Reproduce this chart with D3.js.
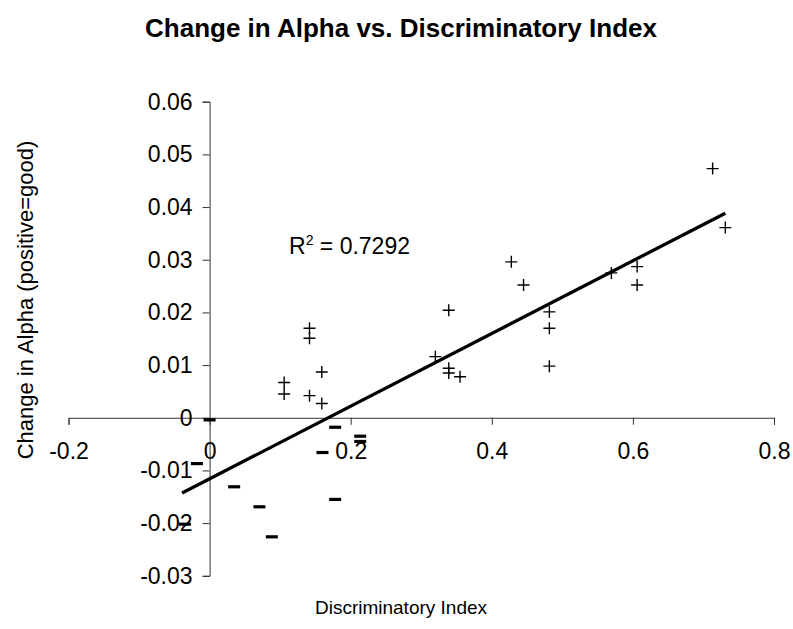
<!DOCTYPE html>
<html>
<head>
<meta charset="utf-8">
<script src="https://cdn.jsdelivr.net/npm/d3@7"></script>
<style>
  html, body { margin: 0; padding: 0; background: #fff; }
  svg { display: block; font-family: "Liberation Sans", Arial, sans-serif; }
</style>
</head>
<body>
<svg id="chart" width="793" height="629"></svg>
<script>
// ---- data ----
const title = "Change in Alpha vs. Discriminatory Index";
const xTitle = "Discriminatory Index";
const yTitle = "Change in Alpha (positive=good)";
const r2Label = "0.7292";

const xTicks = [-0.2, 0, 0.2, 0.4, 0.6, 0.8];
const yTicks = [-0.03, -0.02, -0.01, 0, 0.01, 0.02, 0.03, 0.04, 0.05, 0.06];

// positive change points (plus markers)
const posX = [0.1057, 0.1057, 0.1416, 0.1416, 0.1416, 0.159, 0.159, 0.320, 0.339, 0.339, 0.339, 0.355,
              0.4277, 0.445, 0.4816, 0.4816, 0.4816, 0.5695, 0.606, 0.606, 0.713, 0.731];
const posY = [0.0067, 0.0045, 0.0170, 0.0151, 0.0042, 0.0087, 0.0027, 0.0116, 0.0204, 0.0094, 0.0085, 0.0078,
              0.0296, 0.0252, 0.0201, 0.0170, 0.0098, 0.0275, 0.0287, 0.0252, 0.0473, 0.0361];

// negative change points (dash markers)
const negX = [0, -0.018, -0.035, 0.0348, 0.0707, 0.0882, 0.160, 0.178, 0.178, 0.2135, 0.2135];
const negY = [-0.0004, -0.0087, -0.0202, -0.0131, -0.0169, -0.0226, -0.0066, -0.0018, -0.0155, -0.0035, -0.0045];

// linear trendline as drawn in the picture (slope, intercept, x-range)
const trendCoef = [0.069, -0.0116];
const trendRange = [-0.039, 0.731];

// ---- chart ----
const svg = d3.select("#chart");
const x = d3.scaleLinear().domain([-0.2, 0.8]).range([68.5, 774]);
const y = d3.scaleLinear().domain([-0.03, 0.06]).range([575.8, 101.7]);

const fmtX = d => (d === 0 ? "0" : d3.format(".1f")(d).replace("−", "-"));
const fmtY = d => (d === 0 ? "0" : d3.format(".2f")(d).replace("−", "-"));

// title
svg.append("text").attr("x", 401).attr("y", 37).attr("text-anchor", "middle")
  .attr("font-weight", "bold").attr("font-size", 26).text(title);

// x axis (at y = 0)
const xAxis = d3.axisBottom(x).tickValues(xTicks).tickSize(7).tickPadding(18).tickFormat(fmtX);
const gx = svg.append("g").attr("transform", `translate(0,${y(0)})`).call(xAxis);
gx.select(".domain").attr("stroke", "#333");
gx.selectAll(".tick line").attr("stroke", "#333");
gx.selectAll(".tick text").attr("font-size", 23).attr("fill", "#000")
  .attr("font-family", "Liberation Sans, Arial, sans-serif");

// y axis (at x = 0)
const yAxis = d3.axisLeft(y).tickValues(yTicks).tickSize(7).tickPadding(10).tickFormat(fmtY);
const gy = svg.append("g").attr("transform", `translate(${x(0)},0)`).call(yAxis);
gy.select(".domain").attr("stroke", "#333");
gy.selectAll(".tick line").attr("stroke", "#333");
gy.selectAll(".tick text").attr("font-size", 23).attr("fill", "#000")
  .attr("font-family", "Liberation Sans, Arial, sans-serif");

// axis titles
svg.append("text").attr("x", 401).attr("y", 614).attr("text-anchor", "middle")
  .attr("font-size", 19).text(xTitle);
svg.append("text").attr("transform", "translate(33,300) rotate(-90)").attr("text-anchor", "middle")
  .attr("font-size", 22).text(yTitle);

// trendline
svg.append("line")
  .attr("x1", x(trendRange[0])).attr("y1", y(trendCoef[1] + trendCoef[0] * trendRange[0]))
  .attr("x2", x(trendRange[1])).attr("y2", y(trendCoef[1] + trendCoef[0] * trendRange[1]))
  .attr("stroke", "#000").attr("stroke-width", 3.3);

// plus markers
const pts = posX.map((v, i) => [v, posY[i]]);
const gp = svg.append("g").attr("stroke", "#000").attr("stroke-width", 1.4);
gp.selectAll("path.plus").data(pts).join("path").attr("class", "plus")
  .attr("d", d => `M${x(d[0]) - 6},${y(d[1])}H${x(d[0]) + 6}M${x(d[0])},${y(d[1]) - 6}V${y(d[1]) + 6}`);

// dash markers
const nts = negX.map((v, i) => [v, negY[i]]);
svg.append("g").selectAll("rect").data(nts).join("rect")
  .attr("x", d => x(d[0]) - 6).attr("y", d => y(d[1]) - 1.6)
  .attr("width", 12).attr("height", 3.2).attr("fill", "#000");

// R² label
const r2 = svg.append("text").attr("x", 289).attr("y", 254).attr("font-size", 23);
r2.append("tspan").text("R");
r2.append("tspan").attr("font-size", 14).attr("dy", -9).text("2");
r2.append("tspan").attr("dy", 9).text(" = " + r2Label);
</script>
</body>
</html>
